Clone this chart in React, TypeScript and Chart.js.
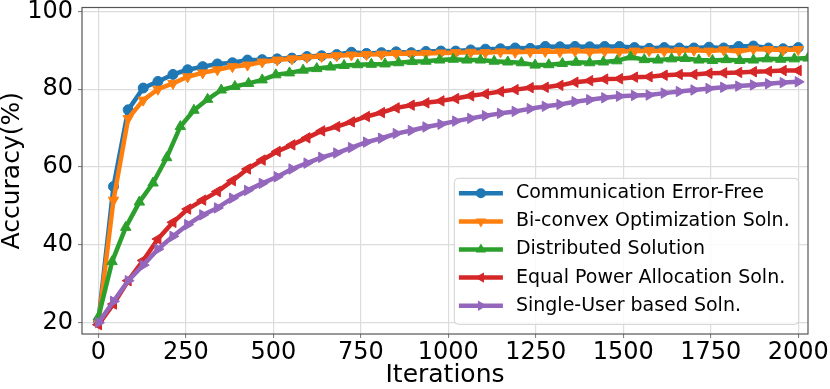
import React, { useEffect, useRef } from 'react';
import { Chart, registerables } from 'chart.js';

Chart.register(...registerables);

const xTicks = [0, 250, 500, 750, 1000, 1250, 1500, 1750, 2000];
const yTicks = [20, 40, 60, 80, 100];

const seriesLabels = [
  'Communication Error-Free',
  'Bi-convex Optimization Soln.',
  'Distributed Solution',
  'Equal Power Allocation Soln.',
  'Single-User based Soln.',
];

// iterations at which the blue / orange / red / purple curves were sampled
const iterA = [
  0, 43, 85, 128, 170, 213, 255, 298, 340, 383, 426, 468, 511, 553, 596, 638, 681, 723, 766, 809,
  851, 894, 936, 979, 1021, 1064, 1106, 1149, 1191, 1234, 1277, 1319, 1362, 1404, 1447, 1489, 1532,
  1574, 1617, 1660, 1702, 1745, 1787, 1830, 1872, 1915, 1957, 2000,
];
// iterations for the green curve
const iterB = [
  0, 39, 78, 117, 156, 195, 234, 273, 312, 351, 390, 429, 468, 507, 546, 585, 624, 663, 702, 741,
  780, 819, 858, 897, 936, 975, 1014, 1053, 1092, 1131, 1170, 1209, 1248, 1287, 1326, 1365, 1404,
  1443, 1482, 1521, 1560, 1599, 1638, 1677, 1716, 1755, 1794, 1833, 1872, 1911, 1950, 1989, 2028, 2067,
];

const errorFree = [
  20.5, 55, 74.7, 80.3, 82, 83.8, 85, 85.8, 86.5, 86.8, 87.5, 87.6, 87.8, 88, 88.4, 88.6, 88.9, 89.5,
  89.2, 89.4, 89.6, 89.4, 89.7, 89.8, 89.8, 90.1, 90.3, 90.4, 90.6, 90.5, 91, 90.9, 91, 90.9, 91, 91,
  90.7, 90.5, 90.7, 90.6, 90.6, 90.8, 90.6, 91, 91.1, 90.6, 90.4, 90.7,
];
const biconvex = [
  20, 51.5, 72.5, 77.2, 80, 81.5, 83.2, 84.2, 85, 85.8, 86.2, 87, 87.5, 87.8, 88.2, 88.4, 88.6, 88.8,
  88.9, 89, 89.2, 89.1, 89.2, 89.3, 89.4, 89.5, 89.4, 89.6, 89.5, 89.6, 89.7, 89.6, 89.8, 89.6, 89.8,
  89.7, 89.8, 89.9, 89.8, 89.9, 90, 89.8, 90.1, 89.7, 90.3, 90.2, 90.1, 90.2,
];
const distributed = [
  21.5, 35.7, 44.5, 51, 55.9, 62.4, 70.4, 74.6, 77.4, 79.8, 80.7, 81.5, 82.4, 83.7, 84.2, 84.9, 85.3,
  85.7, 86.1, 86.3, 86.4, 86.5, 86.8, 87.1, 87.2, 87.5, 87.7, 87.5, 87.5, 87.2, 87, 86.8, 86.2, 86.3,
  86.6, 86.9, 86.8, 87, 87.3, 88.3, 87.6, 87.5, 87.8, 87.9, 87.5, 87.4, 87.6, 87.4, 87.5, 87.8, 87.7,
  87.8, 88, 87.9,
];
const equalPower = [
  19.5, 24.8, 30.8, 36, 41.5, 45.8, 49.2, 51.5, 53.7, 56.5, 59.5, 61.8, 64, 65.7, 67.5, 69.3, 70.4,
  71.6, 73, 74, 75.2, 75.9, 76.5, 77, 77.6, 78.3, 78.8, 79.4, 79.9, 80.4, 80.5, 81, 81.8, 82.2, 82.6,
  82.7, 83.1, 83.2, 83.6, 83.8, 83.8, 84.1, 84.2, 84.3, 84.5, 84.6, 84.8, 84.8,
];
const singleUser = [
  20, 25.5, 30.8, 34.8, 38.9, 42.2, 45.2, 47.7, 49.5, 52, 54, 55.8, 57.5, 59.5, 61, 62.5, 63.6, 65,
  66.4, 67.4, 68.6, 69.4, 70.3, 71, 71.8, 72.5, 73.2, 73.8, 74.3, 75, 75.6, 76.1, 76.8, 77.3, 77.8,
  78.2, 78.4, 78.5, 79, 79.4, 79.8, 80.2, 80.5, 80.8, 81.1, 81.4, 81.7, 81.9,
];

const FONT = '"DejaVu Sans", "Liberation Sans", sans-serif';

function drawMarker(ctx: CanvasRenderingContext2D, style: string, rot: number, x: number, y: number, r: number) {
  ctx.beginPath();
  if (style === 'circle') {
    ctx.arc(x, y, r, 0, Math.PI * 2);
  } else {
    let a = (rot * Math.PI) / 180;
    for (let k = 0; k < 3; k++) {
      const px = x + Math.sin(a) * r;
      const py = y - Math.cos(a) * r;
      if (k === 0) ctx.moveTo(px, py);
      else ctx.lineTo(px, py);
      a += (Math.PI * 2) / 3;
    }
    ctx.closePath();
  }
  ctx.fill();
}

const frameLegendPlugin = {
  id: 'frameLegend',
  afterDraw(chart: any) {
    const { ctx, chartArea: ca } = chart;
    ctx.save();
    ctx.strokeStyle = '#555';
    ctx.lineWidth = 1.2;
    ctx.strokeRect(ca.left, ca.top, ca.right - ca.left, ca.bottom - ca.top);

    const ds = chart.data.datasets;
    ctx.font = `19px ${FONT}`;
    const maxW = Math.max(...ds.map((d: any) => ctx.measureText(d.label).width));
    const w = 4.6 + 44 + 13 + maxW + 9;
    const h = 146;
    const x0 = ca.right - 9.3 - w;
    const y0 = ca.bottom - 9.7 - h;
    ctx.beginPath();
    if ((ctx as any).roundRect) (ctx as any).roundRect(x0, y0, w, h, 4);
    else ctx.rect(x0, y0, w, h);
    ctx.fillStyle = 'rgba(255,255,255,0.85)';
    ctx.fill();
    ctx.strokeStyle = '#d0d0d0';
    ctx.lineWidth = 1;
    ctx.stroke();

    ds.forEach((d: any, i: number) => {
      const cy = y0 + 15 + i * 28.1;
      ctx.strokeStyle = d.borderColor;
      ctx.lineWidth = 4.5;
      ctx.beginPath();
      ctx.moveTo(x0 + 4.6, cy);
      ctx.lineTo(x0 + 48.6, cy);
      ctx.stroke();
      ctx.fillStyle = d.borderColor;
      drawMarker(ctx, d.pointStyle, d.pointRotation || 0, x0 + 26.6, cy, d.pointRadius);
      ctx.fillStyle = '#000';
      ctx.textBaseline = 'middle';
      ctx.textAlign = 'left';
      ctx.fillText(d.label, x0 + 61.6, cy);
    });
    ctx.restore();
  },
};

function pts(xs: number[], ys: number[]) {
  return ys.map((y, i) => ({ x: xs[i], y }));
}

export default function App() {
  const ref = useRef<HTMLCanvasElement | null>(null);

  useEffect(() => {
    if (!ref.current) return;
    const colors = ['#1f77b4', '#ff7f0e', '#2ca02c', '#d62728', '#9467bd'];
    const styles = ['circle', 'triangle', 'triangle', 'triangle', 'triangle'];
    const rots = [0, 180, 0, -90, 90];
    const radii = [5, 6, 6, 6, 6];
    const data = [
      pts(iterA, errorFree),
      pts(iterA, biconvex),
      pts(iterB, distributed),
      pts(iterA, equalPower),
      pts(iterA, singleUser),
    ];
    const datasets = data.map((d, i) => ({
      label: seriesLabels[i],
      data: d,
      borderColor: colors[i],
      backgroundColor: colors[i],
      pointBackgroundColor: colors[i],
      pointBorderColor: colors[i],
      pointBorderWidth: 1,
      pointStyle: styles[i],
      pointRotation: rots[i],
      pointRadius: radii[i],
      borderWidth: 4.5,
      borderJoinStyle: 'round' as const,
      tension: 0,
      fill: false,
      clip: 0,
      order: 5 - i,
    }));

    const chart = new Chart(ref.current, {
      type: 'line',
      data: { datasets },
      options: {
        animation: false,
        responsive: false,
        events: [],
        layout: { padding: { top: 7.5, right: 22, left: 0, bottom: 0 } },
        plugins: { legend: { display: false }, tooltip: { enabled: false } },
        scales: {
          x: {
            type: 'linear',
            min: -47,
            max: 2028,
            afterBuildTicks: (s: any) => {
              s.ticks = xTicks.map((v) => ({ value: v }));
            },
            afterFit: (s: any) => {
              s.height = 55;
              s.paddingLeft = 0;
              s.paddingRight = 0;
            },
            grid: { color: '#dcdcdc', lineWidth: 1.2, tickLength: 4, tickColor: '#777', tickWidth: 1 },
            border: { display: false },
            ticks: {
              font: { family: FONT, size: 24 },
              color: '#000',
              padding: 0,
              maxRotation: 0,
              autoSkip: false,
              callback: (v: any) => String(v),
            },
            title: {
              display: true,
              text: 'Iterations',
              color: '#000',
              font: { family: FONT, size: 25, lineHeight: 1.1 },
              padding: 0,
            },
          },
          y: {
            type: 'linear',
            min: 17.1,
            max: 101,
            afterBuildTicks: (s: any) => {
              s.ticks = yTicks.map((v) => ({ value: v }));
            },
            afterFit: (s: any) => {
              s.width = 82;
              s.paddingTop = 0;
              s.paddingBottom = 0;
            },
            grid: { color: '#dcdcdc', lineWidth: 1.2, tickLength: 4, tickColor: '#777', tickWidth: 1 },
            border: { display: false },
            ticks: {
              font: { family: FONT, size: 24 },
              color: '#000',
              padding: 5,
              autoSkip: false,
              callback: (v: any) => String(v),
            },
            title: {
              display: true,
              text: 'Accuracy(%)',
              color: '#000',
              font: { family: FONT, size: 25, lineHeight: 1 },
              padding: 0,
            },
          },
        },
      },
      plugins: [frameLegendPlugin],
    });
    return () => chart.destroy();
  }, []);

  return (
    <div style={{ position: 'absolute', left: 0, top: 0, width: 830, height: 389, background: '#fff' }}>
      <canvas ref={ref} width={830} height={389} style={{ display: 'block' }} />
    </div>
  );
}
